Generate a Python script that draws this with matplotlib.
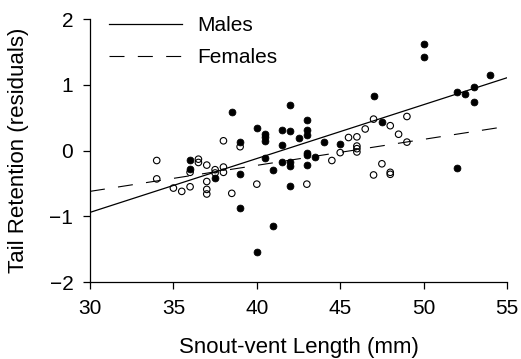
import matplotlib
matplotlib.use("Agg")
import matplotlib.pyplot as plt

plt.rcParams['font.family'] = ['Liberation Sans', 'DejaVu Sans']
plt.rcParams['lines.scale_dashes'] = False

# Males (filled circles)
male_x = [36.0, 36.0, 37.5, 38.5, 39.0, 39.0, 39.0, 40.0, 40.0, 40.5, 40.5, 40.5, 40.5,
          41.0, 41.0, 41.5, 41.5, 41.5, 42.0, 42.0, 42.0, 42.0, 42.0, 42.5,
          43.0, 43.0, 43.0, 43.0, 43.0, 43.0, 43.5, 44.0, 45.0, 47.0, 47.5,
          50.0, 50.0, 52.0, 52.5, 53.0, 53.0, 54.0, 52.0]
male_y = [-0.14, -0.28, -0.42, 0.59, 0.13, -0.36, -0.87, 0.34, -1.54, 0.25, 0.21, 0.15, -0.11,
          -0.29, -1.15, 0.32, 0.08, -0.17, 0.70, 0.30, -0.18, -0.23, -0.54, 0.19,
          0.47, 0.32, 0.24, -0.03, -0.07, -0.22, -0.09, 0.13, 0.10, 0.83, 0.43,
          1.63, 1.42, 0.90, 0.87, 0.97, 0.74, 1.15, -0.27]

# Females (open circles)
female_x = [34.0, 34.0, 35.0, 35.5, 36.0, 36.0, 36.5, 36.5, 37.0, 37.0, 37.0, 37.0,
            37.5, 37.5, 38.0, 38.0, 38.0, 38.5, 39.0, 40.0, 43.0, 44.5, 45.0, 45.5,
            46.0, 46.0, 46.0, 46.0, 46.5, 47.0, 47.0, 47.5, 48.0, 48.0, 48.0, 48.5,
            49.0, 49.0]
female_y = [-0.15, -0.43, -0.57, -0.62, -0.55, -0.33, -0.13, -0.18, -0.22, -0.47, -0.59, -0.66,
            -0.29, -0.34, 0.15, -0.25, -0.33, -0.65, 0.06, -0.51, -0.51, -0.15, -0.03, 0.20,
            0.21, 0.07, 0.03, -0.02, 0.33, 0.48, -0.37, -0.20, 0.38, -0.33, -0.36, 0.25,
            0.52, 0.13]

# Regression lines (end points)
fit_x = [30, 55]
male_fit = [-0.94, 1.11]
female_fit = [-0.62, 0.37]

x_ticks = [30, 35, 40, 45, 50, 55]
y_ticks = [-2, -1, 0, 1, 2]

fig = plt.figure(figsize=(5.21, 3.59), dpi=100)
ax = fig.add_axes([90/521, 77/359, 417/521, (282-19.3)/359])

ax.plot(fit_x, male_fit, color='black', lw=0.9, label='Males')
ax.plot(fit_x, female_fit, color='black', lw=0.8, dashes=(10.8, 9.6), label='Females')

ax.scatter(male_x, male_y, s=24, facecolor='black', edgecolor='black', linewidths=0.6, zorder=3)
ax.scatter(female_x, female_y, s=22, facecolor='none', edgecolor='black', linewidths=0.8, zorder=3)

ax.set_xlim(30, 55)
ax.set_ylim(-2, 2)
ax.set_xticks(x_ticks)
ax.set_yticks(y_ticks)
ax.set_yticklabels(['\u22122', '\u22121', '0', '1', '2'])
for s in ['top', 'right']:
    ax.spines[s].set_visible(False)
for s in ['left', 'bottom']:
    ax.spines[s].set_linewidth(0.9)
ax.tick_params(direction='out', length=5, width=0.9, labelsize=15, pad=7)

ax.set_xlabel('Snout-vent Length (mm)', fontsize=16, labelpad=14)
ax.set_ylabel('Tail Retention (residuals)', fontsize=16, labelpad=15)

leg = ax.legend(loc='upper left', bbox_to_anchor=(0.045, 1.012), frameon=False,
                fontsize=15, handlelength=3.5, handletextpad=0.75,
                labelspacing=0.62, borderpad=0, borderaxespad=0)

fig.savefig('out.png', dpi=100)
